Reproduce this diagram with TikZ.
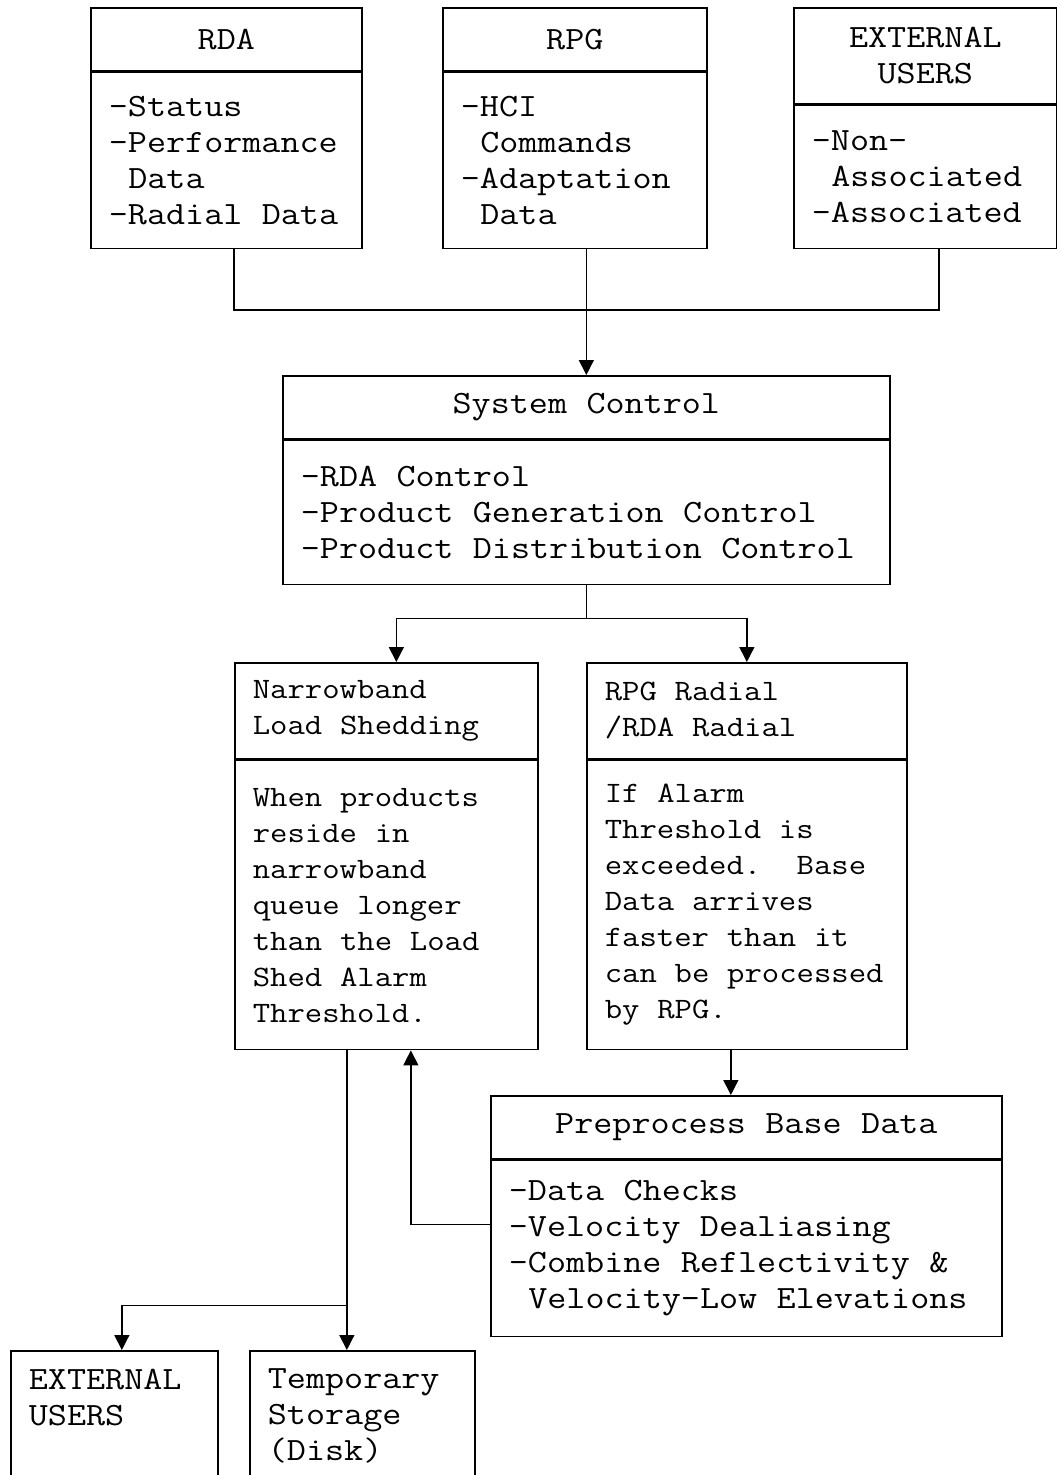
\documentclass[tikz,border=0pt]{standalone}
\usepackage{fontspec}
\newfontfamily\cour{Latin Modern Mono}[FakeStretch=1.14]
\usepackage{tikz}
\usetikzlibrary{arrows.meta,positioning,calc}

\newcommand{\bigtxt}{\cour\fontsize{32.5}{36}\selectfont\spaceskip=19.45pt\relax}
\newcommand{\midtxt}{\cour\fontsize{29.6}{36}\selectfont\spaceskip=17.7pt\relax}

\begin{document}
\begin{tikzpicture}[x=1pt, y=-1pt, >={Triangle[length=15pt,width=15pt]}, line width=1.4pt]
\tikzstyle{box}=[draw, line width=1.7pt, inner xsep=18pt, inner ysep=0pt, anchor=north west, align=flush left]
\tikzstyle{hdr}=[box, inner xsep=0pt, align=center]
\tikzstyle{arr}=[->]
\useasboundingbox (0,0) rectangle (1057,1475);
\clip (0,0) rectangle (1057,1475);

\node[hdr, minimum width=271pt, minimum height=63pt, font=\bigtxt]   (rda)  at (90,7)  {RDA};
\node[box, text width=235pt, minimum height=176pt, font=\bigtxt]     (rdaB) at (rda.south west) {-Status\\-Performance\\\ Data\\-Radial Data};
\node[hdr, minimum width=264pt, minimum height=63pt, font=\bigtxt]   (rpg)  at (442,7) {RPG};
\node[box, text width=228pt, minimum height=176pt, font=\bigtxt]     (rpgB) at (rpg.south west) {-HCI\\\ Commands\\-Adaptation\\\ Data};
\node[hdr, minimum width=263pt, minimum height=96pt, font=\bigtxt]   (ext)  at (793,7) {EXTERNAL\\USERS};
\node[box, text width=227pt, minimum height=143pt, font=\bigtxt]     (extB) at (ext.south west) {-Non-\\\ Associated\\-Associated};

\node[hdr, minimum width=607pt, minimum height=63pt, font=\bigtxt]   (sc)   at (282,375) {System Control};
\node[box, text width=571pt, minimum height=144pt, font=\bigtxt]     (scB)  at (sc.south west) {-RDA Control\\-Product Generation Control\\-Product Distribution Control};

\node[box, text width=267pt, minimum height=96pt, font=\midtxt]      (nb)   at (234,662) {Narrowband\\Load Shedding};
\node[box, text width=267pt, minimum height=289pt, font=\midtxt]     (nbB)  at (nb.south west) {When products\\reside in\\narrowband\\queue longer\\than the Load\\Shed Alarm\\Threshold.};
\node[box, text width=284pt, minimum height=96pt, font=\midtxt]      (rr)   at (586,662) {RPG Radial\\/RDA Radial};
\node[box, text width=284pt, minimum height=289pt, font=\midtxt]     (rrB)  at (rr.south west) {If Alarm\\Threshold is\\exceeded.\ \ Base\\Data arrives\\faster than it\\can be processed\\by RPG.};

\node[hdr, minimum width=511pt, minimum height=63pt, font=\bigtxt]   (pp)   at (490,1095) {Preprocess Base Data};
\node[box, text width=475pt, minimum height=176pt, font=\bigtxt]     (ppB)  at (pp.south west) {-Data Checks\\-Velocity Dealiasing\\-Combine Reflectivity \&\\\ Velocity-Low Elevations};

\node[box, text width=171pt, inner ysep=18pt, text depth=150pt, font=\bigtxt] (ext2) at (10,1350)  {EXTERNAL\\USERS};
\node[box, text width=189pt, inner ysep=18pt, text depth=150pt, font=\bigtxt] (tmp)  at (249,1350) {Temporary\\Storage\\(Disk)};

\coordinate (join) at ([yshift=65pt]sc.north);

\draw ([xshift=7.5pt]rdaB.south) |- (join) -| ([xshift=13.5pt]extB.south);
\draw[arr] (rpgB.south -| sc.north) -- (sc.north);
\draw (scB.south) -- ++(0,33) coordinate (split);
\draw[arr] (split) -| ([xshift=10pt]nb.north);
\draw[arr] (split) -| (rr.north);
\draw[arr] ([xshift=-16pt]rrB.south) -- ([xshift=-16pt]rrB.south |- pp.north);
\draw[arr] ([yshift=24pt]ppB.west) -| ([xshift=24.5pt]nbB.south);
\draw ([xshift=-39.5pt]nbB.south) -- ++(0,255) coordinate (fork);
\draw[arr] (fork) -- (fork |- tmp.north);
\draw[arr] (fork) -| ([xshift=7.5pt]ext2.north);

\end{tikzpicture}
\end{document}
